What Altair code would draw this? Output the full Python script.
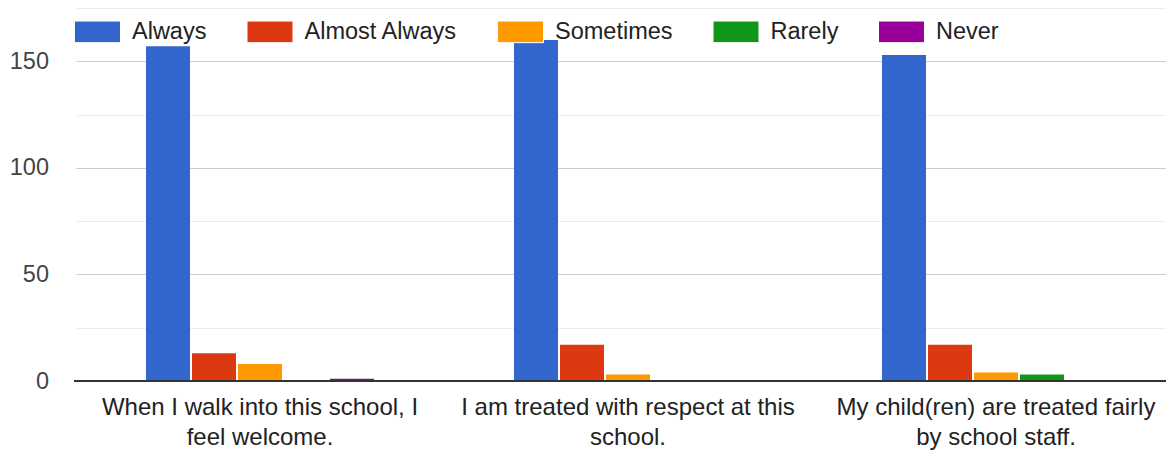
import json
import altair as alt
import pandas as pd

# ---- data ----
questions = [
    "When I walk into this school, I feel welcome.",
    "I am treated with respect at this school.",
    "My child(ren) are treated fairly by school staff.",
]
question_lines = [
    ["When I walk into this school, I", "feel welcome."],
    ["I am treated with respect at this", "school."],
    ["My child(ren) are treated fairly", "by school staff."],
]
responses = ["Always", "Almost Always", "Sometimes", "Rarely", "Never"]
always = [157, 160, 153]
almost_always = [13, 17, 17]
sometimes = [8, 3, 4]
rarely = [0, 0, 3]
never = [1, 0, 0]
colors = ["#3366CC", "#DC3912", "#FF9900", "#109618", "#990099"]
y_ticks = [0, 25, 50, 75, 100, 125, 150, 175]

series = [always, almost_always, sometimes, rarely, never]
rows = []
for name, vals in zip(responses, series):
    for q, v in zip(questions, vals):
        rows.append({"Question": q, "Response": name, "Count": v})
df = pd.DataFrame(rows)

# multi-line x labels (last label is kept inside the right edge, as in the reference)
NBSP = "\u00a0" * 4
shown_lines = [list(question_lines[0]), list(question_lines[1]),
               [line + NBSP for line in question_lines[2]]]
expr = json.dumps(shown_lines[-1])
for q, lines in reversed(list(zip(questions[:-1], shown_lines[:-1]))):
    expr = f"datum.label == {json.dumps(q)} ? {json.dumps(lines)} : ({expr})"
label_expr = expr

FONT = "Liberation Sans, Arial, sans-serif"
legend_symbol = "M-1,-0.47H1V0.47H-1Z"

bars = alt.Chart(df).mark_bar().encode(
    x=alt.X(
        "Question:N",
        sort=questions,
        scale=alt.Scale(range=[2, 1106], paddingInner=0.3804, paddingOuter=0.1902),
        axis=alt.Axis(
            title=None, labelExpr=label_expr, labelAngle=0, labelFontSize=24,
            labelColor="#222222", labelPadding=14, labelLineHeight=30,
            labelLimit=0, domain=False, ticks=False, grid=False, labelFont=FONT,
        ),
    ),
    xOffset=alt.XOffset(
        "Response:N", sort=responses,
        scale=alt.Scale(paddingInner=0.0435, paddingOuter=0),
    ),
    y=alt.Y(
        "Count:Q",
        scale=alt.Scale(domain=[0, 175], nice=False),
        axis=alt.Axis(
            title=None, values=y_ticks,
            labelExpr="datum.value % 50 == 0 ? datum.label : ''",
            gridColor={"condition": {"test": "datum.value % 50 === 0", "value": "#cccccc"},
                       "value": "#ebebeb"},
            gridWidth=1, domain=False, ticks=False, labelFontSize=23.5,
            labelColor="#444444", labelPadding=25.5, labelFont=FONT,
        ),
    ),
    color=alt.Color(
        "Response:N", sort=responses,
        scale=alt.Scale(domain=responses, range=colors),
        legend=alt.Legend(
            title=None, orient="none", legendX=0, legendY=0,
            direction="horizontal", columns=5,
            symbolType=legend_symbol, symbolSize=2116,
            symbolStrokeColor="white", symbolStrokeWidth=1, symbolOpacity=1,
            labelFontSize=23.5, labelColor="#222222", labelFont=FONT,
            labelOffset=11, columnPadding=37.5, labelLimit=0,
        ),
    ),
)

baseline = alt.Chart(pd.DataFrame({"y": [0]})).mark_rule(
    color="#333333", strokeWidth=2
).encode(y="y:Q")

chart = alt.layer(bars, baseline).properties(
    width=1092, height=373,
    autosize=alt.AutoSizeParams(type="none"),
    padding={"left": 66, "top": 0, "right": 0, "bottom": 72},
    background="white",
).configure_view(stroke=None)

chart.save("out.html", embed_options={"renderer": "svg", "actions": False})
